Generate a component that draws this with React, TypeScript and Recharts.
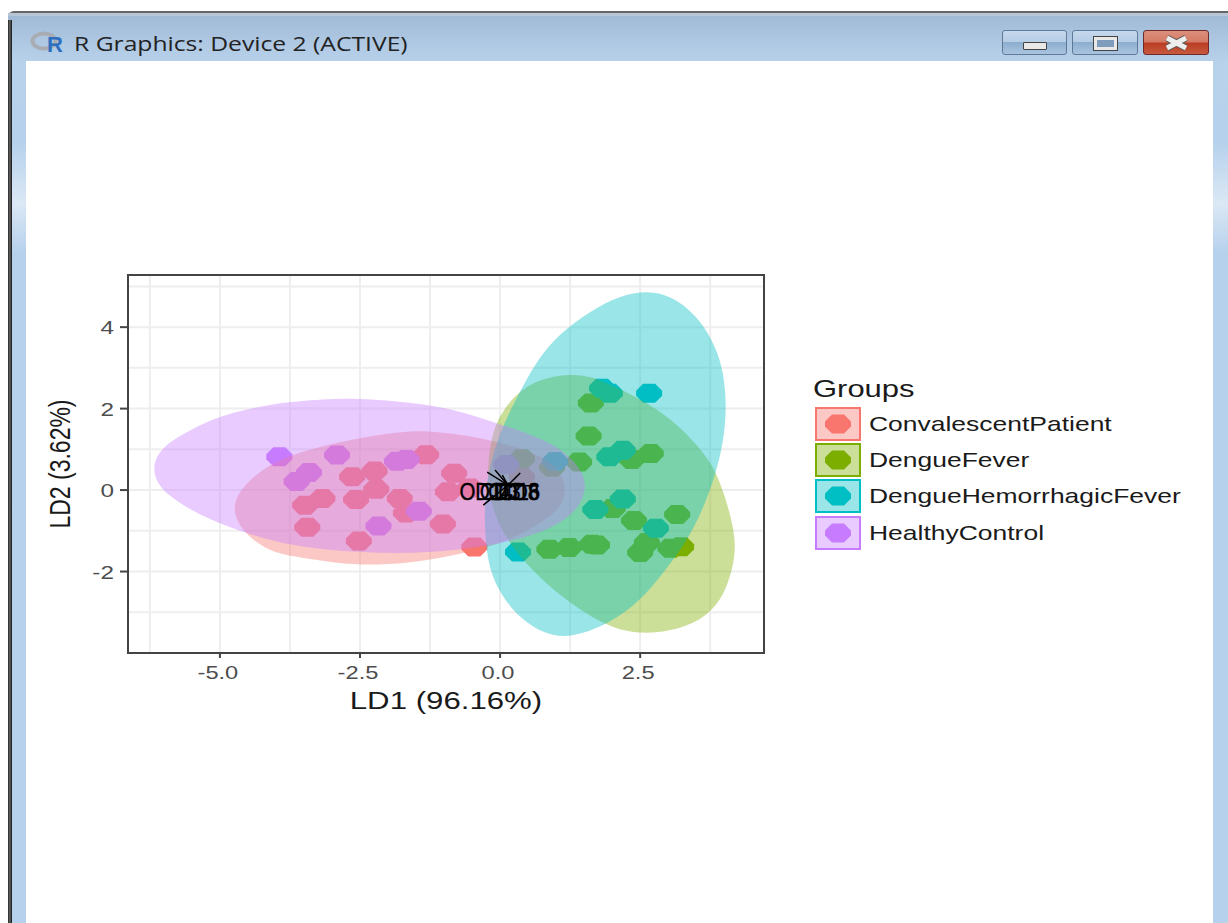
import { CartesianGrid, Label, ReferenceArea, Scatter, ScatterChart, XAxis, YAxis } from 'recharts';

const FONT = '"Liberation Sans", Arial, sans-serif';

const groups = ['ConvalescentPatient', 'DengueFever', 'DengueHemorrhagicFever', 'HealthyControl'];
const colors = ['#F8766D', '#7CAE00', '#00BFC4', '#C77CFF'];

const convalescent = [
  { x: -1.32, y: 0.87 }, { x: -2.24, y: 0.47 }, { x: -2.64, y: 0.33 }, { x: -3.17, y: -0.21 },
  { x: -3.48, y: -0.37 }, { x: -2.21, y: 0.02 }, { x: -2.57, y: -0.23 }, { x: -1.79, y: -0.21 },
  { x: -1.68, y: -0.56 }, { x: -3.44, y: -0.91 }, { x: -2.52, y: -1.25 }, { x: -1.02, y: -0.83 },
  { x: -0.82, y: 0.41 }, { x: -0.93, y: -0.04 }, { x: -0.46, y: -1.4 }, { x: -0.54, y: 0.05 },
  { x: 0.39, y: 0.33 },
];
const dengueFever = [
  { x: 0.39, y: 0.77 }, { x: 0.93, y: 0.56 }, { x: 1.41, y: 0.69 }, { x: 1.62, y: 2.14 },
  { x: 1.58, y: 1.33 }, { x: 2.35, y: 0.75 }, { x: 2.69, y: 0.9 }, { x: 2.01, y: -0.45 },
  { x: 2.39, y: -0.75 }, { x: 3.16, y: -0.6 }, { x: 2.62, y: -1.29 }, { x: 2.5, y: -1.53 },
  { x: 3.04, y: -1.43 }, { x: 3.23, y: -1.39 }, { x: 0.88, y: -1.45 }, { x: 1.23, y: -1.41 },
  { x: 1.64, y: -1.33 }, { x: 1.73, y: -1.35 },
];
const hemorrhagic = [
  { x: 1.82, y: 2.5 }, { x: 1.96, y: 2.38 }, { x: 2.66, y: 2.38 }, { x: 1.95, y: 0.82 },
  { x: 2.19, y: 0.98 }, { x: 1.7, y: -0.48 }, { x: 2.19, y: -0.22 }, { x: 2.78, y: -0.94 },
  { x: 0.32, y: -1.52 }, { x: 0.98, y: 0.7 },
];
const healthy = [
  { x: -3.94, y: 0.82 }, { x: -2.91, y: 0.86 }, { x: -3.41, y: 0.43 }, { x: -3.63, y: 0.21 },
  { x: -1.84, y: 0.71 }, { x: -1.67, y: 0.75 }, { x: -1.45, y: -0.52 }, { x: -2.17, y: -0.88 },
  { x: 0.11, y: 0.63 },
];

// outlines, one list per group
const convalescentOutline = [
  { x: -4.78, y: -0.52 }, { x: -4.68, y: -0.05 }, { x: -4.31, y: 0.46 }, { x: -3.84, y: 0.81 },
  { x: -3.27, y: 1.05 }, { x: -2.45, y: 1.3 }, { x: -1.79, y: 1.43 }, { x: -1.25, y: 1.46 },
  { x: -0.54, y: 1.33 }, { x: -0.05, y: 1.18 }, { x: 0.56, y: 0.95 }, { x: 1.03, y: 0.58 },
  { x: 1.18, y: 0.12 }, { x: 1.14, y: -0.34 }, { x: 0.8, y: -0.76 }, { x: 0.25, y: -1.17 },
  { x: -0.23, y: -1.42 }, { x: -0.89, y: -1.62 }, { x: -1.66, y: -1.8 }, { x: -2.32, y: -1.84 },
  { x: -2.91, y: -1.8 }, { x: -3.75, y: -1.62 }, { x: -4.15, y: -1.48 }, { x: -4.58, y: -1.05 },
];
const dengueFeverOutline = [
  { x: 1.25, y: 2.86 }, { x: 1.66, y: 2.78 }, { x: 2.02, y: 2.55 }, { x: 2.625, y: 2.16 },
  { x: 3.21, y: 1.57 }, { x: 3.625, y: 0.93 }, { x: 3.875, y: 0.42 }, { x: 4.11, y: -0.565 },
  { x: 4.22, y: -1.35 }, { x: 4.14, y: -2.01 }, { x: 3.95, y: -2.72 }, { x: 3.59, y: -3.21 },
  { x: 3.04, y: -3.47 }, { x: 2.5, y: -3.53 }, { x: 1.94, y: -3.39 }, { x: 1.105, y: -2.65 },
  { x: 0.52, y: -1.9 }, { x: 0.16, y: -1.3 }, { x: -0.11, y: -0.61 }, { x: -0.23, y: 0.17 },
  { x: -0.2, y: 0.98 }, { x: -0.07, y: 1.74 }, { x: 0.3, y: 2.4 }, { x: 0.71, y: 2.73 },
];
const hemorrhagicOutline = [
  { x: 2.64, y: 4.9 }, { x: 3.07, y: 4.76 }, { x: 3.48, y: 4.32 }, { x: 3.79, y: 3.7 },
  { x: 3.96, y: 3.07 }, { x: 4.03, y: 2.38 }, { x: 4.03, y: 1.55 }, { x: 3.875, y: 0.42 },
  { x: 3.45, y: -1.06 }, { x: 2.91, y: -2.04 }, { x: 2.5, y: -2.72 }, { x: 1.96, y: -3.28 },
  { x: 1.25, y: -3.64 }, { x: 0.8, y: -3.54 }, { x: 0.34, y: -3.15 }, { x: -0.08, y: -2.4 },
  { x: -0.26, y: -1.55 }, { x: -0.29, y: -0.25 }, { x: -0.17, y: 0.74 }, { x: 0.07, y: 1.65 },
  { x: 0.34, y: 2.38 }, { x: 0.66, y: 3.19 }, { x: 1.05, y: 3.83 }, { x: 1.61, y: 4.4 },
  { x: 2.14, y: 4.78 },
];
const healthyOutline = [
  { x: -2.73, y: 2.27 }, { x: -1.84, y: 2.18 }, { x: -1.25, y: 2.09 }, { x: -0.66, y: 1.92 },
  { x: -0.125, y: 1.67 }, { x: 0.56, y: 1.37 }, { x: 1.06, y: 1.05 }, { x: 1.42, y: 0.58 },
  { x: 1.56, y: 0.12 }, { x: 1.42, y: -0.44 }, { x: 1.05, y: -0.84 }, { x: 0.55, y: -1.14 },
  { x: -0.23, y: -1.38 }, { x: -1.25, y: -1.55 }, { x: -2.45, y: -1.55 }, { x: -3.75, y: -1.38 },
  { x: -4.61, y: -1.03 }, { x: -5.4, y: -0.6 }, { x: -5.95, y: -0.12 }, { x: -6.18, y: 0.3 },
  { x: -6.18, y: 0.75 }, { x: -5.95, y: 1.15 }, { x: -5.5, y: 1.5 }, { x: -5.0, y: 1.82 },
  { x: -4.23, y: 2.08 }, { x: -3.625, y: 2.18 },
];

const pointSets = [convalescent, dengueFever, hemorrhagic, healthy];
const outlines = [convalescentOutline, dengueFeverOutline, hemorrhagicOutline, healthyOutline];

const arrowStart = { x: 0.14, y: 0.12 };
const arrowEnds = [
  { x: -0.23, y: 0.44 }, { x: -0.09, y: 0.49 }, { x: 0.04, y: 0.37 }, { x: 0.36, y: 0.42 },
  { x: -0.41, y: 0.15 }, { x: -0.3, y: -0.37 }, { x: 0.66, y: 0.1 },
];
const varLabels = [
  { x: -0.25, y: -0.1, name: 'OD14' },
  { x: 0.25, y: -0.1, name: 'CD16' },
  { x: 0.0, y: -0.1, name: 'CD3' },
  { x: 0.33, y: -0.1, name: 'CD8' },
];

const xTicks = [-5, -2.5, 0, 2.5];
const yTicks = [-2, 0, 2, 4];
const xGrid = [-6.25, -5, -3.75, -2.5, -1.25, 0, 1.25, 2.5, 3.75];
const yGrid = [-3, -2, -1, 0, 1, 2, 3, 4, 5];
const xDomain = [-6.64, 4.71];
const yDomain = [-4, 5.28];

const OCTAGON = '-6,-9.5 6,-9.5 13,-2.5 13,2.5 6,9.5 -6,9.5 -13,2.5 -13,-2.5';
// the reference is stretched sideways, so its text is too
const STRETCH = 1.28;

const Octagon = (props: any) => (
  <polygon points={OCTAGON} transform={`translate(${props.cx},${props.cy})`} fill={props.fill} />
);

const VarText = (props: any) => (
  <text
    transform={`translate(${props.cx},${props.cy}) scale(0.85,1)`}
    textAnchor="middle"
    dominantBaseline="middle"
    fontSize={24}
    fontFamily={FONT}
    fill="#000"
    stroke="#000"
    strokeWidth={0.4}
  >
    {props.payload.name}
  </text>
);

const XTick = (props: any) => (
  <text transform={`translate(${props.x - 2},${props.y + 19}) scale(${STRETCH},1)`} textAnchor="middle" fontSize={18.5} fontFamily={FONT} fill="#4d4d4d">
    {props.payload.value.toFixed(1)}
  </text>
);

const YTick = (props: any) => (
  <text transform={`translate(${props.x - 4},${props.y + 7}) scale(${STRETCH},1)`} textAnchor="end" fontSize={19} fontFamily={FONT} fill="#4d4d4d">
    {props.payload.value}
  </text>
);

const XTitle = () => (
  <text transform="translate(446,709) scale(1.3,1)" textAnchor="middle" fontSize={24} fontFamily={FONT} fill="#1a1a1a">
    LD1 (96.16%)
  </text>
);

const YTitle = () => (
  <text transform={`translate(70,464) scale(${STRETCH},1) rotate(-90)`} textAnchor="middle" fontSize={23} fontFamily={FONT} fill="#1a1a1a">
    LD2 (3.62%)
  </text>
);

const stretched = (scale: number) => ({ display: 'inline-block', transform: `scaleX(${scale})`, transformOrigin: 'left center' });

function GroupLegend() {
  return (
    <div style={{ position: 'absolute', left: 813, top: 375, fontFamily: FONT, color: '#1a1a1a', whiteSpace: 'nowrap' }}>
      <div style={{ fontSize: 24, height: 31, lineHeight: '28px' }}>
        <span style={stretched(1.29)}>Groups</span>
      </div>
      {groups.map((g, i) => (
        <div key={g} style={{ display: 'flex', alignItems: 'center', height: 36.2, marginLeft: 2 }}>
          <svg width={46} height={34}>
            <rect x={1} y={1} width={44} height={32} fill={colors[i]} fillOpacity={0.4} stroke={colors[i]} strokeWidth={2} />
            <polygon points={OCTAGON} transform="translate(23,17)" fill={colors[i]} />
          </svg>
          <span style={{ ...stretched(1.26), marginLeft: 8, fontSize: 21 }}>{g}</span>
        </div>
      ))}
    </div>
  );
}

function WindowFrame() {
  const button = (left: number, width: number, bg: string, border: string) => ({
    position: 'absolute' as const, left, top: 30, width, height: 25, borderRadius: 3, background: bg,
    border: `1px solid ${border}`, boxSizing: 'border-box' as const,
  });
  const glass = 'linear-gradient(#c6d8ec 0%, #b5cde6 48%, #8eaecf 50%, #a9c4e0 100%)';
  return (
    <>
      <div style={{ position: 'absolute', left: 8, top: 11, width: 1220, height: 912, background: 'linear-gradient(#9fb8d4 0px, #b9d2ec 50px, #b6d1ec 130px, #dbe8f5 190px, #b6d1ec 240px)', borderTop: '2px solid #666', borderTopLeftRadius: 6, boxSizing: 'border-box' }} />
      <div style={{ position: 'absolute', left: 8, top: 13, width: 1220, height: 3, background: '#b9c6d6' }} />
      <div style={{ position: 'absolute', left: 8, top: 20, width: 4, height: 903, background: 'linear-gradient(90deg, #222, #666 45%, #111)' }} />
      <div style={{ position: 'absolute', left: 26, top: 61, width: 1187, height: 862, background: '#fff' }} />
      <svg style={{ position: 'absolute', left: 30, top: 30 }} width={36} height={26}>
        <ellipse cx={14} cy={11} rx={11.5} ry={7.5} fill="none" stroke="#a9adb3" strokeWidth={4} />
        <text x={25} y={22} textAnchor="middle" fontFamily={FONT} fontWeight="bold" fontSize={22} fill="#2f6fc0">R</text>
      </svg>
      <div style={{ position: 'absolute', left: 74, top: 30, fontFamily: '"Open Sans", sans-serif', fontSize: 20, lineHeight: '27px', color: '#222', whiteSpace: 'nowrap' }}>
        <span style={stretched(1.233)}>R Graphics: Device 2 (ACTIVE)</span>
      </div>
      <div style={button(1002, 65, glass, '#5f7a99')}>
        <div style={{ position: 'absolute', left: 20, top: 11, width: 24, height: 8, background: '#e8e8e8', border: '1px solid #444', boxSizing: 'border-box', borderRadius: 1 }} />
      </div>
      <div style={button(1072, 66, glass, '#5f7a99')}>
        <div style={{ position: 'absolute', left: 21, top: 6, width: 23, height: 13, background: '#7f9cbc', border: '3px solid #e8e8e8', outline: '1px solid #444', boxSizing: 'border-box' }} />
      </div>
      <div style={button(1143, 66, 'linear-gradient(#dc8f7c 0%, #d47a64 48%, #bb3c22 52%, #c75a3e 100%)', '#6e2a2a')}>
        <svg width={64} height={23} style={{ position: 'absolute', left: 0, top: 0 }}>
          <path d="M23 7 L42 17 M42 7 L23 17" stroke="#555" strokeWidth={7} />
          <path d="M23 7 L42 17 M42 7 L23 17" stroke="#eee" strokeWidth={5} />
        </svg>
      </div>
    </>
  );
}

export default function App() {
  return (
    <div style={{ position: 'absolute', left: 0, top: 0, width: 1228, height: 923, overflow: 'hidden', background: '#fff' }}>
      <WindowFrame />
      <div style={{ position: 'absolute', left: 0, top: 0 }}>
        <ScatterChart width={1228} height={923} margin={{ top: 275, right: 464, bottom: 220, left: 0 }}>
          <CartesianGrid stroke="#eeeeee" strokeWidth={2} verticalValues={xGrid} horizontalValues={yGrid} />
          <XAxis
            type="number"
            dataKey="x"
            domain={xDomain}
            ticks={xTicks}
            allowDataOverflow
            height={50}
            tick={XTick}
            tickSize={5}
            tickLine={{ stroke: '#444', strokeWidth: 2 }}
            axisLine={false}
          >
            <Label content={XTitle} />
          </XAxis>
          <YAxis
            type="number"
            dataKey="y"
            domain={yDomain}
            ticks={yTicks}
            allowDataOverflow
            width={128}
            tick={YTick}
            tickSize={8}
            tickLine={{ stroke: '#444', strokeWidth: 2 }}
            axisLine={false}
          >
            <Label content={YTitle} />
          </YAxis>

          {pointSets.map((pts, i) => (
            <Scatter key={groups[i]} name={groups[i]} data={pts} fill={colors[i]} shape={Octagon} isAnimationActive={false} />
          ))}
          {outlines.map((pts, i) => (
            <Scatter
              key={`${groups[i]}-ellipse`}
              data={pts}
              fill={colors[i]}
              shape={() => null}
              line={{ fill: colors[i], fillOpacity: 0.4, stroke: 'none' }}
              lineJointType="basisClosed"
              isAnimationActive={false}
            />
          ))}

          {/* arrows as two point scatters so they stay above the ellipses */}
          {arrowEnds.map((end, i) => (
            <Scatter
              key={`arrow-${i}`}
              data={[arrowStart, end]}
              shape={() => null}
              line={{ stroke: '#000', strokeWidth: 1.5 }}
              isAnimationActive={false}
            />
          ))}
          <Scatter data={varLabels} shape={VarText} isAnimationActive={false} />

          <ReferenceArea x1={xDomain[0]} x2={xDomain[1]} y1={yDomain[0]} y2={yDomain[1]} fill="none" stroke="#444" strokeWidth={2} fillOpacity={0} />
        </ScatterChart>
      </div>
      <GroupLegend />
    </div>
  );
}
